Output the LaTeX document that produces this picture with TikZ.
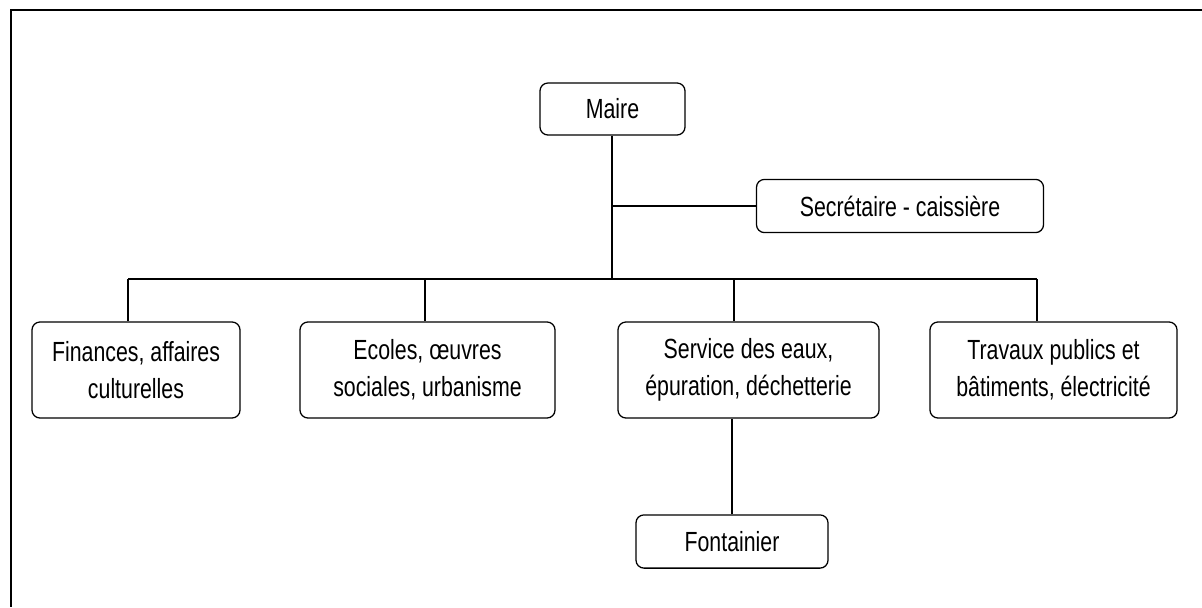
\documentclass[tikz,border=0pt]{standalone}
\usepackage{fontspec}
\setmainfont{Liberation Sans}
\newfontfamily\boxfont[FakeStretch=0.77]{Liberation Sans}
\begin{document}
\begin{tikzpicture}[x=0.025cm,y=-0.025cm,line width=0.9pt,
  box/.style={draw,rounded corners=0.2cm,align=center,inner sep=0pt,
    font=\boxfont\fontsize{19.7}{26.5}\selectfont},
  unitbox/.style={box,minimum height=2.4cm}]
   \useasboundingbox (0,0) rectangle (1202,607);
   \draw[line width=1.6pt] (1202,10) -- (11,10) -- (11,607);
   \node[box,minimum width=3.625cm,minimum height=1.3cm] (maire) at (612.5,109) {Maire};
   \node[box,minimum width=7.175cm,minimum height=1.33cm] (secr) at (900,206) {Secrétaire - caissière};
   \node[unitbox,minimum width=5.2cm] (fin) at (136,370) {Finances, affaires\\culturelles};
   \node[unitbox,minimum width=6.375cm] (eco) at (427.5,370) {Ecoles, œuvres\\sociales, urbanisme};
   \node[unitbox,minimum width=6.525cm] (eaux) at (748.5,370) {Service des eaux,\\épuration, déchetterie};
   \node[unitbox,minimum width=6.175cm] (trav) at (1053.5,370) {Travaux publics et\\bâtiments, électricité};
   \node[box,minimum width=4.8cm,minimum height=1.33cm] (font) at (732,541.5) {Fontainier};
   \coordinate (j1) at (612,206);
   \coordinate (j2) at (612,279);
   \coordinate (b1) at (128,279);
   \coordinate (b2) at (425,279);
   \coordinate (b3) at (734,279);
   \coordinate (b4) at (1037,279);
   \draw (maire.south -| j2) -- (j2);
   \draw (j1) -- (secr.west);
   \draw (b1) -- (b4);
   \draw (b1) -- (b1 |- fin.north);
   \draw (b2) -- (b2 |- eco.north);
   \draw (b3) -- (b3 |- eaux.north);
   \draw (b4) -- (b4 |- trav.north);
   \draw (font.north) -- (font.north |- eaux.south);
\end{tikzpicture}
\end{document}
